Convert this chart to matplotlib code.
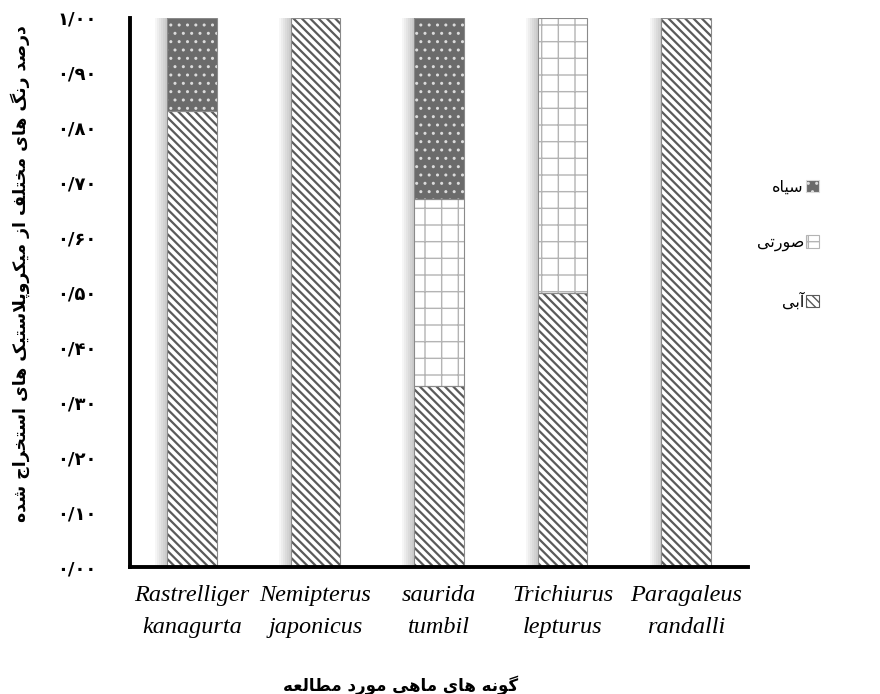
import numpy as np
import matplotlib
matplotlib.use("Agg")
import matplotlib.pyplot as plt
from matplotlib.patches import Patch, Rectangle

# data
species = ["Rastrelliger\nkanagurta", "Nemipterus\njaponicus", "saurida\ntumbil",
           "Trichiurus\nlepturus", "Paragaleus\nrandalli"]
blue = [0.83, 1.00, 0.33, 0.50, 1.00]
pink = [0.00, 0.00, 0.34, 0.50, 0.00]
black = [0.17, 0.00, 0.33, 0.00, 0.00]
labels = ["آبی", "صورتی", "سیاه"]
yticks = [0.0, 0.1, 0.2, 0.3, 0.4, 0.5, 0.6, 0.7, 0.8, 0.9, 1.0]
ylabel = "درصد رنگ های مختلف از میکروپلاستیک های استخراج شده"
xlabel = "گونه های ماهی مورد مطالعه"

# minimal Persian shaping (matplotlib has no bidi / joining support)
DUAL = {
    "ب": "\uFE8F\uFE90\uFE91\uFE92", "پ": "\uFB56\uFB57\uFB58\uFB59",
    "ت": "\uFE95\uFE96\uFE97\uFE98", "ث": "\uFE99\uFE9A\uFE9B\uFE9C",
    "ج": "\uFE9D\uFE9E\uFE9F\uFEA0", "چ": "\uFB7A\uFB7B\uFB7C\uFB7D",
    "ح": "\uFEA1\uFEA2\uFEA3\uFEA4", "خ": "\uFEA5\uFEA6\uFEA7\uFEA8",
    "س": "\uFEB1\uFEB2\uFEB3\uFEB4", "ش": "\uFEB5\uFEB6\uFEB7\uFEB8",
    "ص": "\uFEB9\uFEBA\uFEBB\uFEBC", "ض": "\uFEBD\uFEBE\uFEBF\uFEC0",
    "ط": "\uFEC1\uFEC2\uFEC3\uFEC4", "ظ": "\uFEC5\uFEC6\uFEC7\uFEC8",
    "ع": "\uFEC9\uFECA\uFECB\uFECC", "غ": "\uFECD\uFECE\uFECF\uFED0",
    "ف": "\uFED1\uFED2\uFED3\uFED4", "ق": "\uFED5\uFED6\uFED7\uFED8",
    "ک": "\uFB8E\uFB8F\uFB90\uFB91", "گ": "\uFB92\uFB93\uFB94\uFB95",
    "ل": "\uFEDD\uFEDE\uFEDF\uFEE0", "م": "\uFEE1\uFEE2\uFEE3\uFEE4",
    "ن": "\uFEE5\uFEE6\uFEE7\uFEE8", "ه": "\uFEE9\uFEEA\uFEEB\uFEEC",
    "ی": "\uFBFC\uFBFD\uFBFE\uFBFF",
}
RIGHT = {
    "ا": "\uFE8D\uFE8E", "آ": "\uFE81\uFE82", "د": "\uFEA9\uFEAA",
    "ذ": "\uFEAB\uFEAC", "ر": "\uFEAD\uFEAE", "ز": "\uFEAF\uFEB0",
    "ژ": "\uFB8A\uFB8B", "و": "\uFEED\uFEEE",
}
LAMALEF = {"ا": "\uFEFB\uFEFC", "آ": "\uFEF5\uFEF6"}


def shape(text):
    out = []
    i = 0
    while i < len(text):
        c = text[i]
        prev = text[i - 1] if i > 0 else ""
        nxt = text[i + 1] if i + 1 < len(text) else ""
        p = prev in DUAL
        if c == "ل" and nxt in LAMALEF:
            out.append(LAMALEF[nxt][int(p)])
            i += 2
            continue
        if c in DUAL:
            n = nxt in DUAL or nxt in RIGHT
            out.append(DUAL[c][int(p) + 2 * int(n)])
        elif c in RIGHT:
            out.append(RIGHT[c][int(p)])
        else:
            out.append(c)
        i += 1
    return "".join(reversed(out))


def fa_num(v):
    s = f"{v:.2f}".replace(".", "/")
    return s.translate(str.maketrans("0123456789", "۰۱۲۳۴۵۶۷۸۹"))


plt.rcParams["font.family"] = ["DejaVu Sans"]

fig = plt.figure(figsize=(8.8, 6.94), dpi=100)
ax = fig.add_axes([130 / 880, 1 - 567 / 694, 618 / 880, 549 / 694])

x = np.arange(len(species))
w = 0.4
blue_a = np.array(blue)
pink_a = np.array(pink)
black_a = np.array(black)
total = blue_a + pink_a + black_a

# soft shadow on the left of each bar
for k in range(6):
    ax.bar(x - 0.016 * (k + 1), total, w, color="black", alpha=0.035,
           linewidth=0, zorder=1)

styles = [
    dict(color="white", edgecolor="#5a5a5a", hatch="\\\\\\\\", hlw=1.6),
    dict(color="white", edgecolor="#b4b4b4", hatch="+", hlw=1.0),
    dict(color="#6b6b6b", edgecolor="#dcdcdc", hatch="..", hlw=1.0),
]

bottoms = [np.zeros(len(x)), blue_a, blue_a + pink_a]
groups = []
for vals, bot, st in zip([blue_a, pink_a, black_a], bottoms, styles):
    plt.rcParams["hatch.linewidth"] = st["hlw"]
    bars = ax.bar(x, vals, w, bottom=bot, color=st["color"],
                  edgecolor=st["edgecolor"], hatch=st["hatch"], linewidth=0,
                  zorder=2)
    groups.append(bars)

# thin outline around each segment
for bars in groups:
    for r in bars:
        if r.get_height() > 0:
            ax.add_patch(Rectangle(r.get_xy(), r.get_width(), r.get_height(),
                                   fill=False, edgecolor="#8a8a8a",
                                   linewidth=0.8, zorder=3))

ax.set_xlim(-0.5, 4.5)
ax.set_ylim(0, 1.0)
ax.set_yticks(yticks)
ax.set_yticklabels([fa_num(v) for v in yticks], fontsize=13, fontweight="bold")
ax.set_xticks(x)
ax.set_xticklabels(species, fontsize=17.5, family="Liberation Serif",
                   style="italic", linespacing=1.7)
ax.tick_params(axis="both", length=0)
ax.tick_params(axis="y", pad=24)
ax.tick_params(axis="x", pad=13)

for s in ["top", "right"]:
    ax.spines[s].set_visible(False)
for s in ["left", "bottom"]:
    ax.spines[s].set_linewidth(2.8)
    ax.spines[s].set_color("black")
    ax.spines[s].set_zorder(4)

fig.text(20 / 880, 1 - 274 / 694, shape(ylabel), rotation=90, ha="center",
         va="center", fontsize=12.4, fontweight="bold")
fig.text(401 / 880, 1 - 685 / 694, shape(xlabel), ha="center", va="center",
         fontsize=12, fontweight="bold")

# legend: black, pink, blue from top, marker on the right of the text
plt.rcParams["hatch.linewidth"] = 1.0
handles = []
for st, lab in zip(styles[::-1], labels[::-1]):
    handles.append(Patch(facecolor=st["color"], edgecolor=st["edgecolor"],
                         hatch=st["hatch"], linewidth=0.8,
                         label=shape(lab)))
fig.legend(handles=handles, loc="upper right",
           bbox_to_anchor=(833 / 880, 1 - 165 / 694), frameon=False,
           markerfirst=False, fontsize=11.5, labelspacing=2.55,
           handlelength=0.8, handleheight=0.8, handletextpad=0.12)

fig.savefig("out.png", dpi=100)
